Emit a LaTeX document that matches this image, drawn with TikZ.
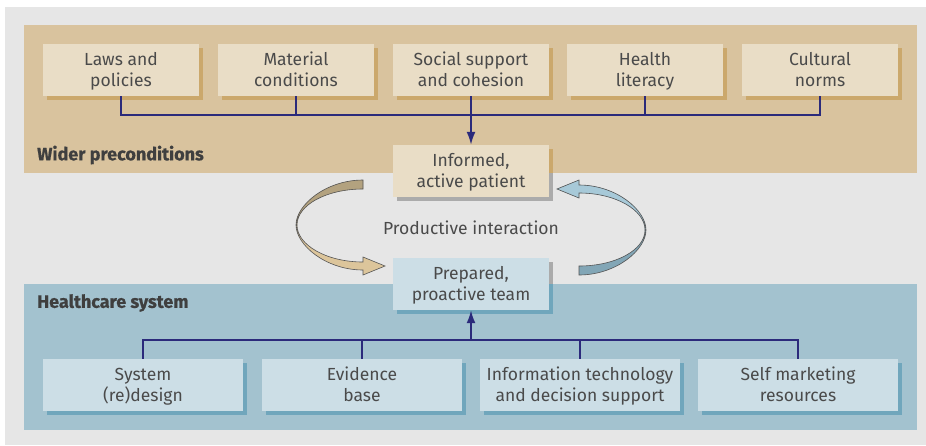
\documentclass[tikz,border=0pt]{standalone}
\usepackage{fontspec}
\setmainfont{Fira Sans}[BoldFeatures={FakeBold=0.6}]
\usetikzlibrary{arrows.meta}
\definecolor{bggray}{HTML}{E6E6E6}
\definecolor{tanband}{HTML}{D9C39E}
\definecolor{tanboxc}{HTML}{E9DDC6}
\definecolor{tanshadow}{HTML}{CBA86C}
\definecolor{blueband}{HTML}{A3C2CF}
\definecolor{blueboxc}{HTML}{CCDEE6}
\definecolor{blueshadow}{HTML}{70A6BC}
\definecolor{grayshadow}{HTML}{ABABAB}
\definecolor{txt}{HTML}{4A4A4A}
\definecolor{lbl}{HTML}{3F3F3F}
\definecolor{navy}{HTML}{2B2A7B}
\definecolor{ribline}{HTML}{555555}
\definecolor{tandark}{HTML}{B3A27F}
\definecolor{tanlight}{HTML}{DCC59B}
\definecolor{bluelight}{HTML}{A7C9D8}
\definecolor{bluedark}{HTML}{82A6B6}
\newcommand\mystrut{\rule[-4.3pt]{0pt}{21pt}}
\newcommand\twolines[2]{\mystrut#1\\\mystrut#2}
\newcommand\tanribbonpath{(363,180) .. controls (326,180) and (296,205) .. (296,225)
  .. controls (296,245) and (326,270) .. (363,270)
  -- (363,275) -- (385,266) -- (363,257) -- (363,262)
  .. controls (326.5,262) and (297,245) .. (297,225)
  .. controls (297,205) and (326.5,189) .. (363,189) -- cycle}
\newcommand\blueribbonpath{(579,275) .. controls (616,275) and (646,250) .. (646,230)
  .. controls (646,210) and (616,185) .. (579,185)
  -- (579,180) -- (557,189) -- (579,198) -- (579,193)
  .. controls (615.5,193) and (645,210) .. (645,230)
  .. controls (645,250) and (615.5,266) .. (579,266) -- cycle}
\begin{document}
\begin{tikzpicture}[x=1pt,y=-1pt,
  boxtext/.style={inner sep=0pt, align=center, text=txt, font=\fontsize{17.5}{21}\selectfont},
  tanbox/.style={boxtext, fill=tanboxc, minimum width=156pt, minimum height=52pt},
  bluebox/.style={boxtext, fill=blueboxc, minimum width=156pt, minimum height=52pt},
  widebox/.style={boxtext, fill=blueboxc, minimum width=200pt, minimum height=52pt},
  conn/.style={draw=navy, line width=1.8pt},
  connarrow/.style={conn, -{Latex[length=13pt,width=9pt]}},
  bandlabel/.style={anchor=west, inner sep=0pt, text=lbl, font=\bfseries\fontsize{18}{21}\selectfont},
  ribbon/.style={draw=ribline, line width=0.6pt}
]
\useasboundingbox (0,0) rectangle (926,445);
\fill[white] (0,0) rectangle (926,445);
\fill[bggray] (5,7) rectangle (926,445);
\fill[tanband] (24,25) rectangle (917,173);
\fill[blueband] (24,284) rectangle (917,430);

% shadows
\foreach \x in {43,218,393,567,742}
  \fill[tanshadow] (\x+4,48) rectangle (\x+160,100);
\fill[grayshadow] (397,149) rectangle (553,201);
\fill[tanshadow] (397,149) rectangle (553,173);
\fill[grayshadow] (397,262) rectangle (553,284);
\fill[blueshadow] (397,284) rectangle (553,314);
\foreach \x in {143,362,580,798}
  \fill[blueshadow] (\x-96,363) rectangle (\x+104,415);

% top boxes
\node[tanbox] (b1) at (121,70) {\twolines{Laws and}{policies}};
\node[tanbox] (b2) at (296,70) {\twolines{Material}{conditions}};
\node[tanbox] (b3) at (471,70) {\twolines{Social support}{and cohesion}};
\node[tanbox] (b4) at (645,70) {\twolines{Health}{literacy}};
\node[tanbox] (b5) at (820,70) {\twolines{Cultural}{norms}};
\node[tanbox] (inf) at (471,171) {\twolines{Informed,}{active patient}};

% bottom boxes
\node[bluebox] (prep) at (471,284) {\twolines{Prepared,}{proactive team}};
\node[widebox] (s1) at (143,385) {\twolines{System}{(re)design}};
\node[widebox] (s2) at (362,385) {\twolines{Evidence}{base}};
\node[widebox] (s3) at (580,385) {\twolines{Information technology}{and decision support}};
\node[widebox] (s4) at (798,385) {\twolines{Self marketing}{resources}};

% labels
\node[bandlabel] (wp) at (37,155) {Wider preconditions};
\node[bandlabel] (hs) at (37,303) {Healthcare system};
\node[boxtext] (pi) at (471,228) {Productive interaction};

% connectors top
\coordinate (hub1) at (471,115);
\draw[conn] (b1.south) |- (hub1) -| (b5.south);
\draw[conn] (b2.south) -- (b2.south |- hub1);
\draw[conn] (b4.south) -- (b4.south |- hub1);
\draw[connarrow] (b3.south) -- (inf.north);

% connectors bottom
\coordinate (hub2) at (471,340);
\draw[conn] (s1.north) |- (hub2) -| (s4.north);
\draw[conn] (s2.north) -- (s2.north |- hub2);
\draw[conn] (s3.north) -- (s3.north |- hub2);
\draw[connarrow] (hub2) -- (prep.south);

% ribbon arrows: tan (patient -> team)
\fill[tanlight] \tanribbonpath;
\begin{scope}
  \clip (280,170) rectangle (400,225);
  \fill[tandark] \tanribbonpath;
\end{scope}
\draw[ribbon] \tanribbonpath;
% blue (team -> patient)
\fill[bluedark] \blueribbonpath;
\begin{scope}
  \clip (540,170) rectangle (660,230);
  \fill[bluelight] \blueribbonpath;
\end{scope}
\draw[ribbon] \blueribbonpath;
\end{tikzpicture}
\end{document}
